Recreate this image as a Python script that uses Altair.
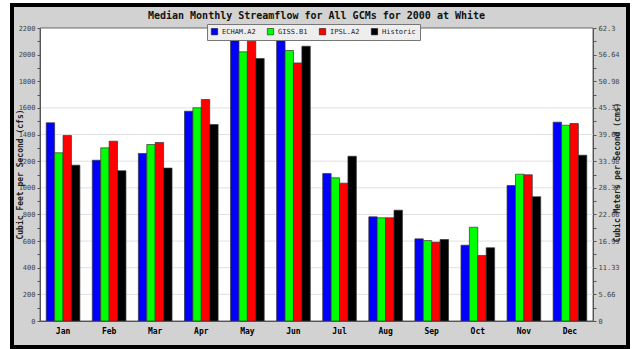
import json
import altair as alt
import pandas as pd

months = ["Jan", "Feb", "Mar", "Apr", "May", "Jun", "Jul", "Aug", "Sep", "Oct", "Nov", "Dec"]
series_names = ["ECHAM.A2", "GISS.B1", "IPSL.A2", "Historic"]
series_colors = ["#0000ff", "#00ff00", "#ff0000", "#000000"]

echam = [1488, 1207, 1258, 1575, 2160, 2150, 1107, 782, 617, 569, 1017, 1493]
giss = [1263, 1300, 1325, 1601, 2021, 2031, 1075, 775, 604, 704, 1102, 1470]
ipsl = [1393, 1350, 1340, 1663, 2101, 1938, 1035, 775, 592, 492, 1098, 1483]
historic = [1170, 1128, 1148, 1475, 1971, 2063, 1237, 832, 612, 550, 933, 1245]

left_ticks = list(range(0, 2201, 100))
grid_values = [200, 400, 600, 800, 1000, 1200, 1400, 1600]
right_labels = ["0", "5.66", "11.33", "16.99", "22.66", "28.32", "33.98",
                "39.65", "45.31", "50.98", "56.64", "62.3"]

title_text = "Median Monthly Streamflow for All GCMs for 2000 at White"
left_title = "Cubic Feet per Second (cfs)"
right_title = "Cubic Meters per Second (cms)"

rows = []
for name, vals in zip(series_names, [echam, giss, ipsl, historic]):
    for m, v in zip(months, vals):
        rows.append({"month": m, "series": name, "value": v})
df = pd.DataFrame(rows)

FONT = "DejaVu Sans Mono"
W, H = 553, 293
ydom = alt.Scale(domain=[0, 2200], nice=False, zero=True)
one = pd.DataFrame({"a": [0]})

frame = alt.Chart(one).mark_rect(fill="#d2d2d2", stroke="#000000", strokeWidth=4).encode(
    x=alt.value(-28), x2=alt.value(588), y=alt.value(-23), y2=alt.value(319)
)
plotbg = alt.Chart(one).mark_rect(fill="#ffffff", stroke="#666666", strokeWidth=1).encode(
    x=alt.value(0), x2=alt.value(W), y=alt.value(0), y2=alt.value(H)
)
title_mark = alt.Chart(one).mark_text(
    text=title_text, font=FONT, fontSize=10, fontWeight="bold", color="#111111",
    align="center", baseline="middle"
).encode(x=alt.value(W / 2), y=alt.value(-12))

grid = alt.Chart(pd.DataFrame({"v": grid_values})).mark_rule(color="#e0e0e0", strokeWidth=1).encode(
    y=alt.Y("v:Q", scale=ydom, axis=None)
)

right_expr = "datum.value % 200 == 0 ? " + json.dumps(right_labels) + "[round(datum.value/200)] : ''"
right_axis_layer = alt.Chart(pd.DataFrame({"v": [0, 2200]})).mark_rule(opacity=0).encode(
    y=alt.Y("v:Q", scale=ydom, axis=alt.Axis(
        orient="right", values=left_ticks, labelExpr=right_expr, labelOverlap=False,
        tickSize=3, tickColor="#555555", domainColor="#555555",
        labelFont=FONT, labelFontSize=7, labelColor="#444444", labelPadding=2,
        title=right_title, titleFont=FONT, titleFontSize=8, titleFontWeight="bold",
        titleColor="#222222", titleAngle=270, titleX=24, titleY=144,
        titleAlign="center", titleBaseline="middle", grid=False, zindex=1,
    ))
)

bars = alt.Chart(df).mark_bar(stroke="#333333", strokeWidth=0.7).encode(
    x=alt.X("month:N", sort=months,
            scale=alt.Scale(paddingInner=0.27, paddingOuter=0.135),
            axis=alt.Axis(title=None, labelAngle=0, ticks=False, domainColor="#555555",
                          labelFont=FONT, labelFontSize=8, labelFontWeight="bold",
                          labelColor="#000000", labelPadding=6, zindex=1)),
    xOffset=alt.XOffset("series:N", sort=series_names, scale=alt.Scale(paddingInner=0, paddingOuter=0)),
    y=alt.Y("value:Q", scale=ydom, axis=alt.Axis(
        values=left_ticks, labelExpr="datum.value % 200 == 0 ? datum.value : ''",
        labelOverlap=False, tickSize=3, tickColor="#555555", domainColor="#555555",
        labelFont=FONT, labelFontSize=7, labelColor="#444444", labelPadding=2,
        title=left_title, titleFont=FONT, titleFontSize=8, titleFontWeight="bold",
        titleColor="#222222", titleAngle=270, titleX=-20, titleY=146,
        titleAlign="center", titleBaseline="middle", grid=False, zindex=1,
    )),
    color=alt.Color("series:N", sort=series_names,
                    scale=alt.Scale(domain=series_names, range=series_colors),
                    legend=alt.Legend(
                        title=None, orient="none", legendX=167, legendY=-4,
                        direction="horizontal", symbolType="square", symbolSize=40,
                        symbolStrokeColor="#000000", symbolStrokeWidth=0.5,
                        symbolOpacity=1, labelFont=FONT, labelFontSize=7,
                        labelColor="#222222", labelOffset=4, columnPadding=10,
                        padding=4, fillColor="#eeeeee", strokeColor="#777777",
                    )),
)

chart = alt.layer(frame, plotbg, title_mark, grid, bars, right_axis_layer).resolve_scale(
    y="independent"
).properties(
    width=W, height=H,
    autosize=alt.AutoSizeParams(type="none"),
    padding={"left": 40, "top": 28, "right": 40, "bottom": 28},
    background="#ffffff",
).configure_view(stroke=None)

chart.save("out.html", embed_options={"renderer": "svg", "actions": False})
